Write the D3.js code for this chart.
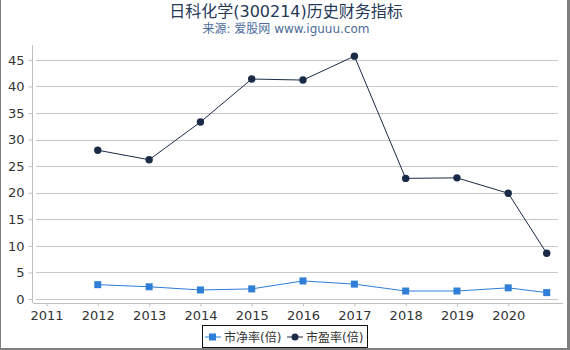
<!DOCTYPE html>
<html>
<head>
<meta charset="utf-8">
<title>日科化学(300214)历史财务指标</title>
<style>
  body { margin: 0; background: #fff; }
  #chart { position: relative; width: 570px; height: 350px; }
  text { font-family: "DejaVu Sans", "Noto Sans CJK SC", sans-serif; }
</style>
<script src="https://d3js.org/d3.v7.min.js"></script>
</head>
<body>
<div id="chart"></div>
<script>
// data
var dates = ["2012-01-01", "2013-01-01", "2014-01-01", "2015-01-01", "2016-01-01",
             "2017-01-01", "2018-01-01", "2019-01-01", "2020-01-01", "2020-10-01"];
var pb = [2.7, 2.3, 1.7, 1.9, 3.4, 2.8, 1.5, 1.5, 2.1, 1.2];
var pe = [28.0, 26.2, 33.3, 41.4, 41.2, 45.7, 22.7, 22.8, 19.9, 8.6];
var yTicks = [0, 5, 10, 15, 20, 25, 30, 35, 40, 45];
var xTickYears = [2011, 2012, 2013, 2014, 2015, 2016, 2017, 2018, 2019, 2020];
var seriesNames = ["市净率(倍)", "市盈率(倍)"];

var width = 570, height = 350;
var parse = d3.timeParse("%Y-%m-%d");

var svg = d3.select("#chart").append("svg")
  .attr("width", width)
  .attr("height", height);

// frame (left, right, bottom)
svg.append("rect").attr("x", 0).attr("y", 0).attr("width", 1).attr("height", 350).attr("fill", "#7f7f7f");
svg.append("rect").attr("x", 567).attr("y", 0).attr("width", 3).attr("height", 350).attr("fill", "#7f7f7f");
svg.append("rect").attr("x", 0).attr("y", 348).attr("width", 570).attr("height", 2).attr("fill", "#7f7f7f");

// titles
svg.append("text")
  .attr("x", 286).attr("y", 17)
  .attr("text-anchor", "middle")
  .attr("font-size", "16px")
  .attr("fill", "#253858")
  .text("日科化学(300214)历史财务指标");
svg.append("text")
  .attr("x", 286).attr("y", 33)
  .attr("text-anchor", "middle")
  .attr("font-size", "12px")
  .attr("fill", "#4b6b9a")
  .text("来源: 爱股网 www.iguuu.com");

var x = d3.scaleTime()
  .domain([new Date(2010, 8, 27), new Date(2021, 0, 25)])
  .range([33, 563]);
var y = d3.scaleLinear()
  .domain([0, 47.8])
  .range([299, 45]);

// gridlines
svg.append("g")
  .selectAll("line")
  .data(yTicks)
  .enter().append("line")
  .attr("x1", 36).attr("x2", 558)
  .attr("y1", function(d) { return Math.round(y(d)) + 0.5; })
  .attr("y2", function(d) { return Math.round(y(d)) + 0.5; })
  .attr("stroke", "#c8c8c8")
  .attr("stroke-width", 1);

// y axis
var yAxis = svg.append("g")
  .attr("transform", "translate(32.5,0)")
  .call(d3.axisLeft(y).tickValues(yTicks).tickSize(4).tickPadding(4));
yAxis.select(".domain").attr("d", "M0,45V303").attr("stroke", "#c0c0c0");
yAxis.selectAll(".tick line").attr("stroke", "#c0c0c0");
yAxis.selectAll(".tick text").attr("font-size", "13px").attr("fill", "#333")
  .attr("font-family", "DejaVu Sans, sans-serif");

// x axis
var xAxis = svg.append("g")
  .attr("transform", "translate(0,303.5)")
  .call(d3.axisBottom(x)
    .tickValues(xTickYears.map(function(yr) { return new Date(yr, 0, 1); }))
    .tickFormat(d3.timeFormat("%Y")).tickSize(3).tickPadding(4));
xAxis.select(".domain").attr("d", "M33,0H563").attr("stroke", "#c0c0c0");
xAxis.selectAll(".tick line").attr("stroke", "#c0c0c0");
xAxis.selectAll(".tick text").attr("font-size", "13px").attr("fill", "#333")
  .attr("font-family", "DejaVu Sans, sans-serif");

var pbData = dates.map(function(d, i) { return { date: parse(d), value: pb[i] }; });
var peData = dates.map(function(d, i) { return { date: parse(d), value: pe[i] }; });

var line = d3.line()
  .x(function(d) { return x(d.date); })
  .y(function(d) { return y(d.value); });

var pbColor = "#2f7ed8", peColor = "#1b2b47";

svg.append("path").datum(pbData)
  .attr("d", line).attr("fill", "none")
  .attr("stroke", pbColor).attr("stroke-width", 1);
svg.append("g").selectAll("rect")
  .data(pbData)
  .enter().append("rect")
  .attr("x", function(d) { return x(d.date) - 3.5; })
  .attr("y", function(d) { return y(d.value) - 3.5; })
  .attr("width", 7).attr("height", 7)
  .attr("fill", pbColor);

svg.append("path").datum(peData)
  .attr("d", line).attr("fill", "none")
  .attr("stroke", peColor).attr("stroke-width", 1);
svg.append("g").selectAll("circle")
  .data(peData)
  .enter().append("circle")
  .attr("cx", function(d) { return x(d.date); })
  .attr("cy", function(d) { return y(d.value); })
  .attr("r", 3.7)
  .attr("fill", peColor);

// legend
var lg = svg.append("g");
lg.append("rect")
  .attr("x", 202.5).attr("y", 325.5).attr("width", 165).attr("height", 22)
  .attr("fill", "#fff").attr("stroke", "#111").attr("stroke-width", 1);
lg.append("line").attr("x1", 205).attr("x2", 221).attr("y1", 337).attr("y2", 337)
  .attr("stroke", pbColor).attr("stroke-width", 1);
lg.append("rect").attr("x", 209).attr("y", 333.5).attr("width", 7).attr("height", 7).attr("fill", pbColor);
lg.append("text").attr("x", 224).attr("y", 341.5).attr("font-size", "12px").attr("fill", "#333")
  .text(seriesNames[0]);
lg.append("line").attr("x1", 287).attr("x2", 303).attr("y1", 337).attr("y2", 337)
  .attr("stroke", peColor).attr("stroke-width", 1);
lg.append("circle").attr("cx", 295).attr("cy", 337).attr("r", 3.5).attr("fill", peColor);
lg.append("text").attr("x", 306).attr("y", 341.5).attr("font-size", "12px").attr("fill", "#333")
  .text(seriesNames[1]);
</script>
</body>
</html>
